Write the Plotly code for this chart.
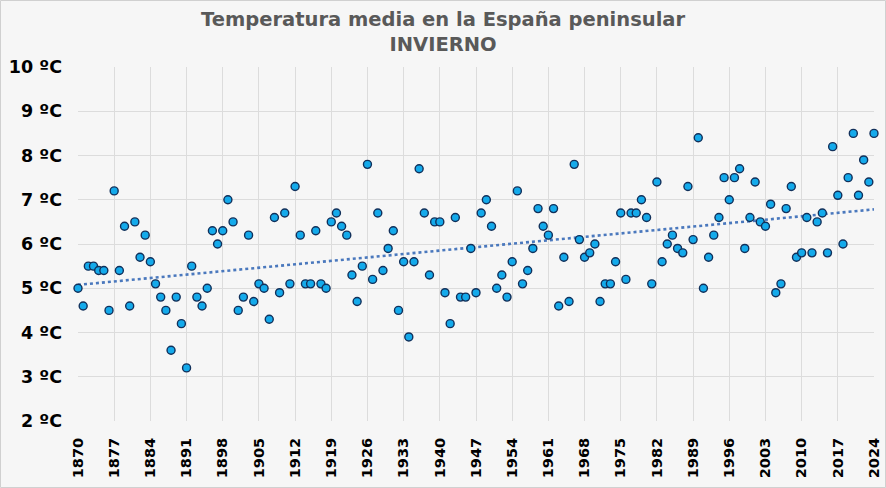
import numpy as np
import plotly.graph_objects as go

years = list(range(1870, 2025))
temps = [
    5.0, 4.6, 5.5, 5.5, 5.4, 5.4, 4.5, 7.2, 5.4, 6.4,   # 1870-1879
    4.6, 6.5, 5.7, 6.2, 5.6, 5.1, 4.8, 4.5, 3.6, 4.8,   # 1880-1889
    4.2, 3.2, 5.5, 4.8, 4.6, 5.0, 6.3, 6.0, 6.3, 7.0,   # 1890-1899
    6.5, 4.5, 4.8, 6.2, 4.7, 5.1, 5.0, 4.3, 6.6, 4.9,   # 1900-1909
    6.7, 5.1, 7.3, 6.2, 5.1, 5.1, 6.3, 5.1, 5.0, 6.5,   # 1910-1919
    6.7, 6.4, 6.2, 5.3, 4.7, 5.5, 7.8, 5.2, 6.7, 5.4,   # 1920-1929
    5.9, 6.3, 4.5, 5.6, 3.9, 5.6, 7.7, 6.7, 5.3, 6.5,   # 1930-1939
    6.5, 4.9, 4.2, 6.6, 4.8, 4.8, 5.9, 4.9, 6.7, 7.0,   # 1940-1949
    6.4, 5.0, 5.3, 4.8, 5.6, 7.2, 5.1, 5.4, 5.9, 6.8,   # 1950-1959
    6.4, 6.2, 6.8, 4.6, 5.7, 4.7, 7.8, 6.1, 5.7, 5.8,   # 1960-1969
    6.0, 4.7, 5.1, 5.1, 5.6, 6.7, 5.2, 6.7, 6.7, 7.0,   # 1970-1979
    6.6, 5.1, 7.4, 5.6, 6.0, 6.2, 5.9, 5.8, 7.3, 6.1,   # 1980-1989
    8.4, 5.0, 5.7, 6.2, 6.6, 7.5, 7.0, 7.5, 7.7, 5.9,   # 1990-1999
    6.6, 7.4, 6.5, 6.4, 6.9, 4.9, 5.1, 6.8, 7.3, 5.7,   # 2000-2009
    5.8, 6.6, 5.8, 6.5, 6.7, 5.8, 8.2, 7.1, 6.0, 7.5,   # 2010-2019
    8.5, 7.1, 7.9, 7.4, 8.5,                             # 2020-2024
]
x_ticks = list(range(1870, 2025, 7))
y_ticks = [2, 3, 4, 5, 6, 7, 8, 9, 10]
y_ticktext = [f"{v} ºC" for v in y_ticks]
title_text = "Temperatura media en la España peninsular<br>INVIERNO"

slope, intercept = np.polyfit(years, temps, 1)
trend = [slope * y + intercept for y in years]

fig = go.Figure()
fig.add_trace(go.Scatter(
    x=years, y=trend, mode="lines",
    line=dict(color="#4a78bd", width=2.6, dash="dot"),
    hoverinfo="skip", showlegend=False,
))
fig.add_trace(go.Scatter(
    x=years, y=temps, mode="markers",
    marker=dict(size=8, color="#14aaeb", line=dict(color="#12305a", width=1.4)),
    cliponaxis=False, showlegend=False,
))

L, R, T, B = 78, 12, 67, 67
W, H = 886, 488
pw, ph = W - L - R, H - T - B

fig.update_layout(
    width=W, height=H,
    margin=dict(l=L, r=R, t=T, b=B, autoexpand=False),
    paper_bgcolor="#f6f6f6",
    plot_bgcolor="#f6f6f6",
    annotations=[dict(
        text=title_text, xref="paper", yref="paper",
        x=(443 - L) / pw, xanchor="center",
        y=(H - B - 6) / ph, yanchor="top",
        showarrow=False, align="center",
        font=dict(family="DejaVu Sans", size=19.5, color="#595959", weight="bold"),
    )],
    xaxis=dict(
        range=[1870, 2024], automargin=False,
        tickmode="array", tickvals=x_ticks, ticktext=[str(v) for v in x_ticks],
        tickangle=-90,
        tickfont=dict(family="DejaVu Sans", size=14.5, color="#000000", weight="bold"),
        ticklabelstandoff=13,
        showgrid=True, gridcolor="#dcdcdc", gridwidth=1,
        zeroline=False, showline=False, ticks="",
    ),
    yaxis=dict(
        range=[2, 10], automargin=False,
        tickmode="array", tickvals=y_ticks, ticktext=y_ticktext,
        tickfont=dict(family="DejaVu Sans", size=17.5, color="#000000", weight="bold"),
        ticklabelstandoff=15,
        showgrid=True, gridcolor="#dcdcdc", gridwidth=1,
        zeroline=False, showline=False, ticks="",
    ),
    shapes=[dict(
        type="rect", xref="paper", yref="paper",
        x0=(0.5 - L) / pw, x1=(W - 0.5 - L) / pw,
        y0=(-B + 0.5) / ph, y1=(H - B - 0.5) / ph,
        line=dict(color="#d0d0d0", width=1), layer="below",
    )],
)

fig.write_html("out.html")
